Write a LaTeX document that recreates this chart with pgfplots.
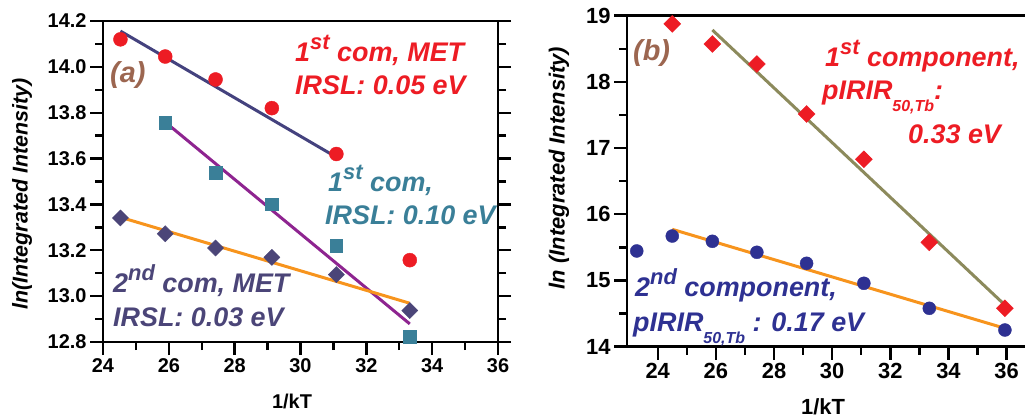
\documentclass[border=0pt]{standalone}
\usepackage{pgfplots}
\pgfplotsset{compat=1.18}
\usepackage{fontspec}
\setmainfont{Liberation Sans}
\definecolor{cred}{HTML}{ED1C24}
\definecolor{cteal}{HTML}{3A7F98}
\definecolor{cdia}{HTML}{4B4578}
\definecolor{cblue}{HTML}{44427E}
\definecolor{cpurp}{HTML}{8E2490}
\definecolor{corange}{HTML}{F7941D}
\definecolor{colive}{HTML}{8C8A5C}
\definecolor{cnavy}{HTML}{2E3192}
\definecolor{cbrown}{HTML}{9C6650}
\newcommand\ann{\fontsize{27}{28}\selectfont\bfseries\itshape}
\newcommand\sups[1]{\raisebox{0.48em}{\fontsize{22}{22}\selectfont #1}}
\newcommand\subs[1]{\raisebox{-0.42em}{\fontsize{16}{16}\selectfont #1}}
\pgfplotsset{
  common/.style={
    scale only axis, anchor=south west,
    axis line style={line width=2.6bp},
    tick style={line width=2.4bp, black},
    major tick length=13bp, minor tick length=8bp,
    tick align=outside,
    ticklabel style={font=\bfseries\fontsize{20}{20}\selectfont},
    /pgf/number format/assume math mode=true,
    clip=false,
  }
}
\begin{document}
\begin{tikzpicture}
\useasboundingbox (0,0) rectangle (1025bp,417bp);
% ---------------- panel (a)
\begin{axis}[common,
  at={(103bp,75bp)}, width=395bp, height=321bp,
  xmin=24, xmax=36, ymin=12.8, ymax=14.2,
  xtick={24,26,28,30,32,34,36}, minor xtick={25,27,29,31,33,35},
  ytick={12.8,13.0,13.2,13.4,13.6,13.8,14.0,14.2},
  minor ytick={12.9,13.1,13.3,13.5,13.7,13.9,14.1},
  xtick pos=left, ytick pos=both,
  yticklabel style={/pgf/number format/.cd, fixed, fixed zerofill, precision=1},
]
\addplot[only marks, mark=*, mark size=7bp, cred, mark options={draw=cred, fill=cred}] coordinates {
(24.53,14.12) (25.89,14.045) (27.42,13.945) (29.13,13.82) (31.09,13.62) (33.32,13.157)};
\addplot[only marks, mark=square*, mark size=6.2bp, cteal, mark options={draw=cteal, fill=cteal}] coordinates {
(25.89,13.756) (27.42,13.538) (29.13,13.40) (31.09,13.22) (33.32,12.823)};
\addplot[only marks, mark=square*, mark size=5.7bp, cdia, mark options={draw=cdia, fill=cdia, rotate=45}] coordinates {
(24.53,13.341) (25.89,13.272) (27.42,13.21) (29.13,13.169) (31.09,13.094) (33.32,12.937)};
\addplot[no marks, cblue, line width=3bp] coordinates {(24.53,14.156) (31.09,13.606)};
\addplot[no marks, cpurp, line width=3bp] coordinates {(25.89,13.759) (33.32,12.879)};
\addplot[no marks, corange, line width=3bp] coordinates {(24.53,13.344) (33.32,12.969)};
\end{axis}
% ---------------- panel (b)
\begin{axis}[common,
  at={(627bp,70.3bp)}, width=402.9bp, height=331bp,
  xmin=22.944, xmax=36.8, ymin=14, ymax=19,
  xtick={24,26,28,30,32,34,36}, minor xtick={25,27,29,31,33,35},
  ytick={14,15,16,17,18,19}, minor ytick={14.5,15.5,16.5,17.5,18.5},
  xtick pos=left, ytick pos=left,
  ticklabel style={font=\bfseries\fontsize{22}{22}\selectfont},
]
\addplot[only marks, mark=*, mark size=6.5bp, cnavy, mark options={draw=cnavy, fill=cnavy}] coordinates {
(23.28,15.446) (24.5,15.672) (25.88,15.592) (27.41,15.426) (29.12,15.26) (31.09,14.958) (33.34,14.58) (35.94,14.252)};
\addplot[only marks, mark=square*, mark size=6bp, cred, mark options={draw=cred, fill=cred, rotate=45}] coordinates {
(24.5,18.875) (25.88,18.573) (27.41,18.27) (29.12,17.515) (31.09,16.83) (33.34,15.577) (35.94,14.58)};
\addplot[no marks, colive, line width=3bp] coordinates {(25.88,18.784) (35.94,14.63)};
\addplot[no marks, corange, line width=3bp] coordinates {(24.5,15.773) (35.94,14.278)};
\end{axis}
% ---------------- axis labels
\node[anchor=base, font=\bfseries\fontsize{20}{20}\selectfont] at (292bp,9bp) {1/kT};
\node[anchor=base, font=\bfseries\fontsize{22}{22}\selectfont] at (823bp,3bp) {1/kT};
\node[rotate=90, font=\bfseries\itshape\fontsize{21.5}{22}\selectfont] at (22bp,223bp) {ln(Integrated Intensity)};
\node[rotate=90, font=\bfseries\itshape\fontsize{22}{22}\selectfont] at (559bp,249bp) {ln (Integrated Intensity)};
% ---------------- annotations (a)
\node[anchor=west, inner sep=0pt, text=cbrown, font=\bfseries\itshape\fontsize{29}{30}\selectfont] at (110bp,342bp) {(a)};
\node[anchor=base west, inner sep=0pt, text=cred] at (295bp,355bp) {\ann 1\sups{st} com, MET};
\node[anchor=base west, inner sep=0pt, text=cred] at (295bp,322bp) {\ann IRSL: 0.05 eV};
\node[anchor=base west, inner sep=0pt, text=cteal] at (328bp,225bp) {\ann 1\sups{st} com,};
\node[anchor=base west, inner sep=0pt, text=cteal] at (325bp,192bp) {\ann IRSL: 0.10 eV};
\node[anchor=base west, inner sep=0pt, text=cdia] at (113bp,124bp) {\ann 2\sups{nd} com, MET};
\node[anchor=base west, inner sep=0pt, text=cdia] at (113bp,90bp) {\ann IRSL: 0.03 eV};
% ---------------- annotations (b)
\node[anchor=west, inner sep=0pt, text=cbrown, font=\bfseries\itshape\fontsize{29}{30}\selectfont] at (633bp,364bp) {(b)};
\node[anchor=base west, inner sep=0pt, text=cred] at (825bp,350bp) {\ann 1\sups{st} component,};
\node[anchor=base west, inner sep=0pt, text=cred] at (822bp,317bp) {\ann pIRIR\subs{50,Tb}:};
\node[anchor=base west, inner sep=0pt, text=cred] at (908bp,273bp) {\ann 0.33 eV};
\node[anchor=base west, inner sep=0pt, text=cnavy] at (635bp,120bp) {\ann 2\sups{nd} component,};
\node[anchor=base west, inner sep=0pt, text=cnavy] at (633bp,85bp) {\ann pIRIR\subs{50,Tb} : 0.17 eV};
\end{tikzpicture}
\end{document}
